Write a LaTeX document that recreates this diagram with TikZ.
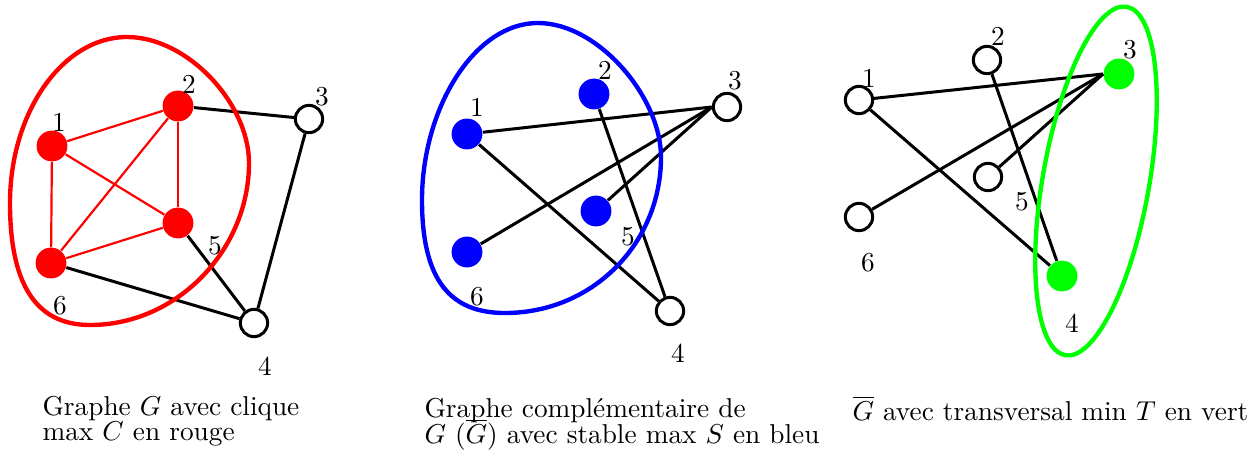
\documentclass[tikz,border=0pt]{standalone}
\usepackage{fontspec}
\begin{document}
\begin{tikzpicture}[x=0.3663pt,y=-0.3663pt,
  full/.style={circle,inner sep=0pt,minimum size=11.3pt},
  hollow/.style={circle,draw=black,line width=1.1pt,inner sep=0pt,minimum size=10pt},
  edge/.style={black,line width=1.1pt},
  redge/.style={red,line width=0.8pt},
  lab/.style={inner sep=0pt},
  captext/.style={anchor=base west,inner sep=0pt},
  blob/.style={line width=1.6pt}]
\useasboundingbox (0,0) rectangle (1254,452);

% ---------- Panel 1 : G with max clique ----------
\node[full,fill=red] (a1) at (52,146) {};
\node[full,fill=red] (a2) at (178,106) {};
\node[hollow] (a3) at (309,119) {};
\node[hollow] (a4) at (254,323) {};
\node[full,fill=red] (a5) at (178,223) {};
\node[full,fill=red] (a6) at (51,263) {};
\node[lab] (la1) at (59,122) {1};
\node[lab] (la2) at (189,84) {2};
\node[lab] (la3) at (322,97) {3};
\node[lab] (la4) at (265,366) {4};
\node[lab] (la5) at (215,246) {5};
\node[lab] (la6) at (60,306) {6};
\draw[redge] (a1) -- (a2);
\draw[redge] (a1) -- (a6);
\draw[redge] (a1) -- (a5);
\draw[redge] (a2) -- (a5);
\draw[redge] (a2) -- (a6);
\draw[redge] (a5) -- (a6);
\draw[edge] (a2) -- (a3);
\draw[edge] (a3) -- (a4);
\draw[edge] (a5) -- (a4);
\draw[edge] (a6) -- (a4);
\draw[blob,red] (127,37) .. controls (187,37) and (249,103) .. (249,163)
  .. controls (249,250) and (177,325) .. (90,325)
  .. controls (35,325) and (10,283) .. (10,203)
  .. controls (10,112) and (63,37) .. (127,37) -- cycle;

% ---------- Panel 2 : complement with max stable ----------
\node[full,fill=blue] (b1) at (467,134) {};
\node[full,fill=blue] (b2) at (594,94) {};
\node[hollow] (b3) at (727,107) {};
\node[hollow] (b4) at (670,311) {};
\node[full,fill=blue] (b5) at (596,211) {};
\node[full,fill=blue] (b6) at (467,252) {};
\node[lab] (lb1) at (477,107) {1};
\node[lab] (lb2) at (605,70) {2};
\node[lab] (lb3) at (735,81) {3};
\node[lab] (lb4) at (678,353) {4};
\node[lab] (lb5) at (628,237) {5};
\node[lab] (lb6) at (477,297) {6};
\draw[edge] (b1) -- (b3.west);
\draw[edge] (b6) -- (b3.west);
\draw[edge] (b5) -- (b3.west);
\draw[edge] (b1) -- (b4);
\draw[edge] (b2) -- (b4);
\draw[blob,blue] (538,23) .. controls (598,23) and (661,97) .. (661,157)
  .. controls (661,244) and (592,313) .. (505,313)
  .. controls (450,313) and (422,280) .. (422,200)
  .. controls (422,109) and (474,23) .. (538,23) -- cycle;

% ---------- Panel 3 : complement with min transversal ----------
\node[hollow] (c1) at (859,100) {};
\node[hollow] (c2) at (987,60) {};
\node[full,fill=green] (c3) at (1119,74) {};
\node[full,fill=green] (c4) at (1062,276) {};
\node[hollow] (c5) at (988,177) {};
\node[hollow] (c6) at (859,217) {};
\node[lab] (lc1) at (869,78) {1};
\node[lab] (lc2) at (998,36) {2};
\node[lab] (lc3) at (1130,50) {3};
\node[lab] (lc4) at (1072,323) {4};
\node[lab] (lc5) at (1022,202) {5};
\node[lab] (lc6) at (868,263) {6};
\draw[edge] (c1) -- (c3.west);
\draw[edge] (c6) -- (c3.west);
\draw[edge] (c5) -- (c3.west);
\draw[edge] (c1) -- (c4);
\draw[edge] (c2) -- (c4);
\draw[blob,green,rotate around={80:(1096,181)}] (1096,181) ellipse [x radius=64.8pt, y radius=19.5pt];

% ---------- Captions ----------
\node[captext] (t1a) at (42,415) {Graphe $G$ avec clique};
\node[captext] (t1b) at (42,440) {max $C$ en rouge};
\node[captext] (t2a) at (424,417) {Graphe complémentaire de};
\node[captext] (t2b) at (424,443) {$G$ ($\overline{G}$) avec stable max $S$ en bleu};
\node[captext] (t3) at (852,420) {$\overline{G}$ avec transversal min $T$ en vert};
\end{tikzpicture}
\end{document}
